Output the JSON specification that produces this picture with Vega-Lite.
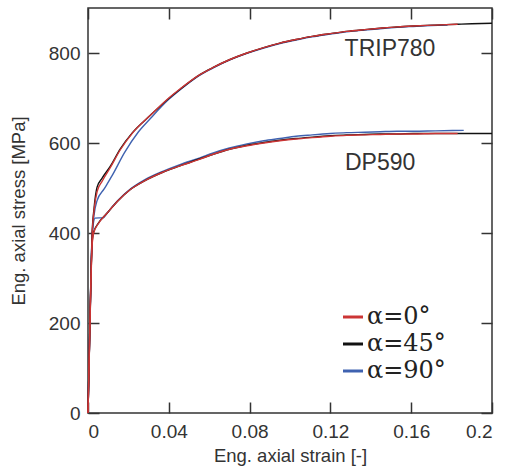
{
  "$schema": "https://vega.github.io/schema/vega-lite/v6.json",
  "width": 404,
  "height": 405,
  "autosize": {"type": "none"},
  "padding": {"left": 88, "top": 8, "right": 14, "bottom": 56},
  "background": "white",
  "config": {
    "view": {"stroke": "#333333", "strokeWidth": 1.5},
    "axis": {
      "grid": false,
      "domain": false,
      "tickColor": "#333333",
      "tickWidth": 1.5,
      "tickSize": -11,
      "labelFont": "Liberation Sans",
      "labelFontSize": 19,
      "labelColor": "#333333",
      "titleFont": "Liberation Sans",
      "titleFontSize": 18.5,
      "titleFontWeight": "normal",
      "titleColor": "#333333"
    },
    "legend": {"labelFont": "DejaVu Serif", "labelFontSize": 24}
  },
  "datasets": {
    "curves": [
      {"material":"TRIP780","angle":"α=90°","strain":0,"stress":0},
      {"material":"TRIP780","angle":"α=90°","strain":0.0012,"stress":250},
      {"material":"TRIP780","angle":"α=90°","strain":0.002,"stress":390},
      {"material":"TRIP780","angle":"α=90°","strain":0.003,"stress":440},
      {"material":"TRIP780","angle":"α=90°","strain":0.0045,"stress":472},
      {"material":"TRIP780","angle":"α=90°","strain":0.008,"stress":498},
      {"material":"TRIP780","angle":"α=90°","strain":0.012,"stress":528},
      {"material":"TRIP780","angle":"α=90°","strain":0.018,"stress":578},
      {"material":"TRIP780","angle":"α=90°","strain":0.025,"stress":625},
      {"material":"TRIP780","angle":"α=90°","strain":0.031,"stress":655},
      {"material":"TRIP780","angle":"α=90°","strain":0.04,"stress":697},
      {"material":"TRIP780","angle":"α=90°","strain":0.0455,"stress":718},
      {"material":"TRIP780","angle":"α=90°","strain":0.0554,"stress":751},
      {"material":"TRIP780","angle":"α=90°","strain":0.062,"stress":767},
      {"material":"TRIP780","angle":"α=90°","strain":0.07,"stress":784},
      {"material":"TRIP780","angle":"α=90°","strain":0.0787,"stress":799},
      {"material":"TRIP780","angle":"α=90°","strain":0.087,"stress":811},
      {"material":"TRIP780","angle":"α=90°","strain":0.095,"stress":821},
      {"material":"TRIP780","angle":"α=90°","strain":0.103,"stress":829},
      {"material":"TRIP780","angle":"α=90°","strain":0.111,"stress":836},
      {"material":"TRIP780","angle":"α=90°","strain":0.12,"stress":842},
      {"material":"TRIP780","angle":"α=90°","strain":0.128,"stress":847},
      {"material":"TRIP780","angle":"α=90°","strain":0.137,"stress":851},
      {"material":"TRIP780","angle":"α=90°","strain":0.1446,"stress":854},
      {"material":"TRIP780","angle":"α=90°","strain":0.153,"stress":857},
      {"material":"TRIP780","angle":"α=90°","strain":0.161,"stress":859},
      {"material":"TRIP780","angle":"α=90°","strain":0.17,"stress":861},
      {"material":"TRIP780","angle":"α=90°","strain":0.178,"stress":862},

      {"material":"DP590","angle":"α=90°","strain":0,"stress":0},
      {"material":"DP590","angle":"α=90°","strain":0.0012,"stress":250},
      {"material":"DP590","angle":"α=90°","strain":0.002,"stress":390},
      {"material":"DP590","angle":"α=90°","strain":0.0035,"stress":433},
      {"material":"DP590","angle":"α=90°","strain":0.0075,"stress":434},
      {"material":"DP590","angle":"α=90°","strain":0.0094,"stress":444},
      {"material":"DP590","angle":"α=90°","strain":0.0145,"stress":471},
      {"material":"DP590","angle":"α=90°","strain":0.0208,"stress":497},
      {"material":"DP590","angle":"α=90°","strain":0.028,"stress":518},
      {"material":"DP590","angle":"α=90°","strain":0.037,"stress":537},
      {"material":"DP590","angle":"α=90°","strain":0.0455,"stress":552},
      {"material":"DP590","angle":"α=90°","strain":0.0554,"stress":567},
      {"material":"DP590","angle":"α=90°","strain":0.062,"stress":578},
      {"material":"DP590","angle":"α=90°","strain":0.07,"stress":589},
      {"material":"DP590","angle":"α=90°","strain":0.0787,"stress":598},
      {"material":"DP590","angle":"α=90°","strain":0.087,"stress":605},
      {"material":"DP590","angle":"α=90°","strain":0.095,"stress":610},
      {"material":"DP590","angle":"α=90°","strain":0.103,"stress":615},
      {"material":"DP590","angle":"α=90°","strain":0.111,"stress":618},
      {"material":"DP590","angle":"α=90°","strain":0.12,"stress":621},
      {"material":"DP590","angle":"α=90°","strain":0.128,"stress":623},
      {"material":"DP590","angle":"α=90°","strain":0.137,"stress":624},
      {"material":"DP590","angle":"α=90°","strain":0.1446,"stress":625},
      {"material":"DP590","angle":"α=90°","strain":0.153,"stress":626},
      {"material":"DP590","angle":"α=90°","strain":0.161,"stress":626},
      {"material":"DP590","angle":"α=90°","strain":0.172,"stress":627},
      {"material":"DP590","angle":"α=90°","strain":0.186,"stress":628},

      {"material":"TRIP780","angle":"α=45°","strain":0,"stress":0},
      {"material":"TRIP780","angle":"α=45°","strain":0.0012,"stress":255},
      {"material":"TRIP780","angle":"α=45°","strain":0.002,"stress":395},
      {"material":"TRIP780","angle":"α=45°","strain":0.003,"stress":455},
      {"material":"TRIP780","angle":"α=45°","strain":0.0045,"stress":502},
      {"material":"TRIP780","angle":"α=45°","strain":0.007,"stress":522},
      {"material":"TRIP780","angle":"α=45°","strain":0.011,"stress":548},
      {"material":"TRIP780","angle":"α=45°","strain":0.016,"stress":587},
      {"material":"TRIP780","angle":"α=45°","strain":0.022,"stress":623},
      {"material":"TRIP780","angle":"α=45°","strain":0.031,"stress":662},
      {"material":"TRIP780","angle":"α=45°","strain":0.04,"stress":699},
      {"material":"TRIP780","angle":"α=45°","strain":0.0455,"stress":719},
      {"material":"TRIP780","angle":"α=45°","strain":0.0554,"stress":752},
      {"material":"TRIP780","angle":"α=45°","strain":0.062,"stress":768},
      {"material":"TRIP780","angle":"α=45°","strain":0.07,"stress":785},
      {"material":"TRIP780","angle":"α=45°","strain":0.0787,"stress":800},
      {"material":"TRIP780","angle":"α=45°","strain":0.087,"stress":812},
      {"material":"TRIP780","angle":"α=45°","strain":0.095,"stress":822},
      {"material":"TRIP780","angle":"α=45°","strain":0.103,"stress":830},
      {"material":"TRIP780","angle":"α=45°","strain":0.111,"stress":837},
      {"material":"TRIP780","angle":"α=45°","strain":0.12,"stress":843},
      {"material":"TRIP780","angle":"α=45°","strain":0.128,"stress":848},
      {"material":"TRIP780","angle":"α=45°","strain":0.137,"stress":852},
      {"material":"TRIP780","angle":"α=45°","strain":0.1446,"stress":855},
      {"material":"TRIP780","angle":"α=45°","strain":0.153,"stress":858},
      {"material":"TRIP780","angle":"α=45°","strain":0.161,"stress":860},
      {"material":"TRIP780","angle":"α=45°","strain":0.172,"stress":862},
      {"material":"TRIP780","angle":"α=45°","strain":0.183,"stress":864},
      {"material":"TRIP780","angle":"α=45°","strain":0.19,"stress":865},
      {"material":"TRIP780","angle":"α=45°","strain":0.2,"stress":866},

      {"material":"DP590","angle":"α=45°","strain":0,"stress":0},
      {"material":"DP590","angle":"α=45°","strain":0.0012,"stress":245},
      {"material":"DP590","angle":"α=45°","strain":0.002,"stress":375},
      {"material":"DP590","angle":"α=45°","strain":0.0028,"stress":402},
      {"material":"DP590","angle":"α=45°","strain":0.005,"stress":421},
      {"material":"DP590","angle":"α=45°","strain":0.0094,"stress":444},
      {"material":"DP590","angle":"α=45°","strain":0.0145,"stress":470},
      {"material":"DP590","angle":"α=45°","strain":0.0208,"stress":496},
      {"material":"DP590","angle":"α=45°","strain":0.028,"stress":516},
      {"material":"DP590","angle":"α=45°","strain":0.037,"stress":535},
      {"material":"DP590","angle":"α=45°","strain":0.0455,"stress":549},
      {"material":"DP590","angle":"α=45°","strain":0.0554,"stress":565},
      {"material":"DP590","angle":"α=45°","strain":0.062,"stress":575},
      {"material":"DP590","angle":"α=45°","strain":0.07,"stress":586},
      {"material":"DP590","angle":"α=45°","strain":0.0787,"stress":595},
      {"material":"DP590","angle":"α=45°","strain":0.087,"stress":601},
      {"material":"DP590","angle":"α=45°","strain":0.095,"stress":606},
      {"material":"DP590","angle":"α=45°","strain":0.103,"stress":610},
      {"material":"DP590","angle":"α=45°","strain":0.111,"stress":613},
      {"material":"DP590","angle":"α=45°","strain":0.12,"stress":616},
      {"material":"DP590","angle":"α=45°","strain":0.128,"stress":618},
      {"material":"DP590","angle":"α=45°","strain":0.137,"stress":619},
      {"material":"DP590","angle":"α=45°","strain":0.1446,"stress":620},
      {"material":"DP590","angle":"α=45°","strain":0.153,"stress":620},
      {"material":"DP590","angle":"α=45°","strain":0.161,"stress":621},
      {"material":"DP590","angle":"α=45°","strain":0.172,"stress":621},
      {"material":"DP590","angle":"α=45°","strain":0.183,"stress":621},
      {"material":"DP590","angle":"α=45°","strain":0.19,"stress":621},
      {"material":"DP590","angle":"α=45°","strain":0.2,"stress":621},

      {"material":"TRIP780","angle":"α=0°","strain":0,"stress":0},
      {"material":"TRIP780","angle":"α=0°","strain":0.0012,"stress":250},
      {"material":"TRIP780","angle":"α=0°","strain":0.002,"stress":390},
      {"material":"TRIP780","angle":"α=0°","strain":0.003,"stress":450},
      {"material":"TRIP780","angle":"α=0°","strain":0.0045,"stress":492},
      {"material":"TRIP780","angle":"α=0°","strain":0.007,"stress":515},
      {"material":"TRIP780","angle":"α=0°","strain":0.011,"stress":545},
      {"material":"TRIP780","angle":"α=0°","strain":0.016,"stress":585},
      {"material":"TRIP780","angle":"α=0°","strain":0.022,"stress":622},
      {"material":"TRIP780","angle":"α=0°","strain":0.031,"stress":662},
      {"material":"TRIP780","angle":"α=0°","strain":0.04,"stress":700},
      {"material":"TRIP780","angle":"α=0°","strain":0.0455,"stress":720},
      {"material":"TRIP780","angle":"α=0°","strain":0.0554,"stress":752},
      {"material":"TRIP780","angle":"α=0°","strain":0.062,"stress":768},
      {"material":"TRIP780","angle":"α=0°","strain":0.07,"stress":785},
      {"material":"TRIP780","angle":"α=0°","strain":0.0787,"stress":800},
      {"material":"TRIP780","angle":"α=0°","strain":0.087,"stress":812},
      {"material":"TRIP780","angle":"α=0°","strain":0.095,"stress":822},
      {"material":"TRIP780","angle":"α=0°","strain":0.103,"stress":830},
      {"material":"TRIP780","angle":"α=0°","strain":0.111,"stress":837},
      {"material":"TRIP780","angle":"α=0°","strain":0.12,"stress":843},
      {"material":"TRIP780","angle":"α=0°","strain":0.128,"stress":848},
      {"material":"TRIP780","angle":"α=0°","strain":0.137,"stress":852},
      {"material":"TRIP780","angle":"α=0°","strain":0.1446,"stress":855},
      {"material":"TRIP780","angle":"α=0°","strain":0.153,"stress":858},
      {"material":"TRIP780","angle":"α=0°","strain":0.161,"stress":860},
      {"material":"TRIP780","angle":"α=0°","strain":0.172,"stress":862},
      {"material":"TRIP780","angle":"α=0°","strain":0.183,"stress":864},

      {"material":"DP590","angle":"α=0°","strain":0,"stress":0},
      {"material":"DP590","angle":"α=0°","strain":0.0012,"stress":240},
      {"material":"DP590","angle":"α=0°","strain":0.002,"stress":370},
      {"material":"DP590","angle":"α=0°","strain":0.0028,"stress":400},
      {"material":"DP590","angle":"α=0°","strain":0.005,"stress":420},
      {"material":"DP590","angle":"α=0°","strain":0.0094,"stress":444},
      {"material":"DP590","angle":"α=0°","strain":0.0145,"stress":470},
      {"material":"DP590","angle":"α=0°","strain":0.0208,"stress":496},
      {"material":"DP590","angle":"α=0°","strain":0.028,"stress":516},
      {"material":"DP590","angle":"α=0°","strain":0.037,"stress":535},
      {"material":"DP590","angle":"α=0°","strain":0.0455,"stress":549},
      {"material":"DP590","angle":"α=0°","strain":0.0554,"stress":564},
      {"material":"DP590","angle":"α=0°","strain":0.062,"stress":575},
      {"material":"DP590","angle":"α=0°","strain":0.07,"stress":586},
      {"material":"DP590","angle":"α=0°","strain":0.0787,"stress":594},
      {"material":"DP590","angle":"α=0°","strain":0.087,"stress":600},
      {"material":"DP590","angle":"α=0°","strain":0.095,"stress":605},
      {"material":"DP590","angle":"α=0°","strain":0.103,"stress":609},
      {"material":"DP590","angle":"α=0°","strain":0.111,"stress":612},
      {"material":"DP590","angle":"α=0°","strain":0.12,"stress":615},
      {"material":"DP590","angle":"α=0°","strain":0.128,"stress":617},
      {"material":"DP590","angle":"α=0°","strain":0.137,"stress":618},
      {"material":"DP590","angle":"α=0°","strain":0.1446,"stress":619},
      {"material":"DP590","angle":"α=0°","strain":0.153,"stress":620},
      {"material":"DP590","angle":"α=0°","strain":0.161,"stress":620},
      {"material":"DP590","angle":"α=0°","strain":0.172,"stress":621},
      {"material":"DP590","angle":"α=0°","strain":0.183,"stress":621}
    ],
    "labels": [
      {"strain": 0.1495, "stress": 809, "text": "TRIP780"},
      {"strain": 0.1446, "stress": 556, "text": "DP590"}
    ]
  },
  "layer": [
    {
      "data": {"name": "curves"},
      "mark": {"type": "line", "strokeWidth": 1.4, "interpolate": "monotone"},
      "encoding": {
        "x": {
          "field": "strain", "type": "quantitative",
          "scale": {"domain": [0, 0.2], "nice": false, "zero": false},
          "axis": {
            "orient": "bottom",
            "values": [0, 0.04, 0.08, 0.12, 0.16, 0.2],
            "format": "~g",
            "labelPadding": 20,
            "title": "Eng. axial strain [-]",
            "titlePadding": 5
          }
        },
        "y": {
          "field": "stress", "type": "quantitative",
          "scale": {"domain": [0, 900], "nice": false},
          "axis": {
            "orient": "left",
            "values": [0, 200, 400, 600, 800],
            "format": "d",
            "labelPadding": 19,
            "title": "Eng. axial stress [MPa]",
            "titlePadding": 20
          }
        },
        "detail": {"field": "material"},
        "color": {
          "field": "angle", "type": "nominal",
          "scale": {"domain": ["α=0°", "α=45°", "α=90°"], "range": ["#cc3535", "#111111", "#3f62b0"]},
          "legend": {
            "orient": "none",
            "legendX": 253,
            "legendY": 297,
            "title": null,
            "padding": 0,
            "symbolType": "stroke",
            "symbolSize": 400,
            "symbolStrokeWidth": 3,
            "labelColor": "#222222",
            "labelOffset": 2,
            "rowPadding": 3
          }
        }
      }
    },
    {
      "data": {"name": "labels"},
      "mark": {"type": "text", "font": "Liberation Sans", "fontSize": 23, "color": "#333333", "align": "center", "baseline": "middle"},
      "encoding": {
        "x": {
          "field": "strain", "type": "quantitative",
          "scale": {"domain": [0, 0.2], "nice": false, "zero": false},
          "axis": {"orient": "top", "values": [0, 0.04, 0.08, 0.12, 0.16, 0.2], "labels": false, "title": null}
        },
        "y": {
          "field": "stress", "type": "quantitative",
          "scale": {"domain": [0, 900], "nice": false},
          "axis": {"orient": "right", "values": [0, 200, 400, 600, 800], "labels": false, "title": null}
        },
        "text": {"field": "text"}
      }
    }
  ],
  "resolve": {"axis": {"x": "independent", "y": "independent"}}
}
